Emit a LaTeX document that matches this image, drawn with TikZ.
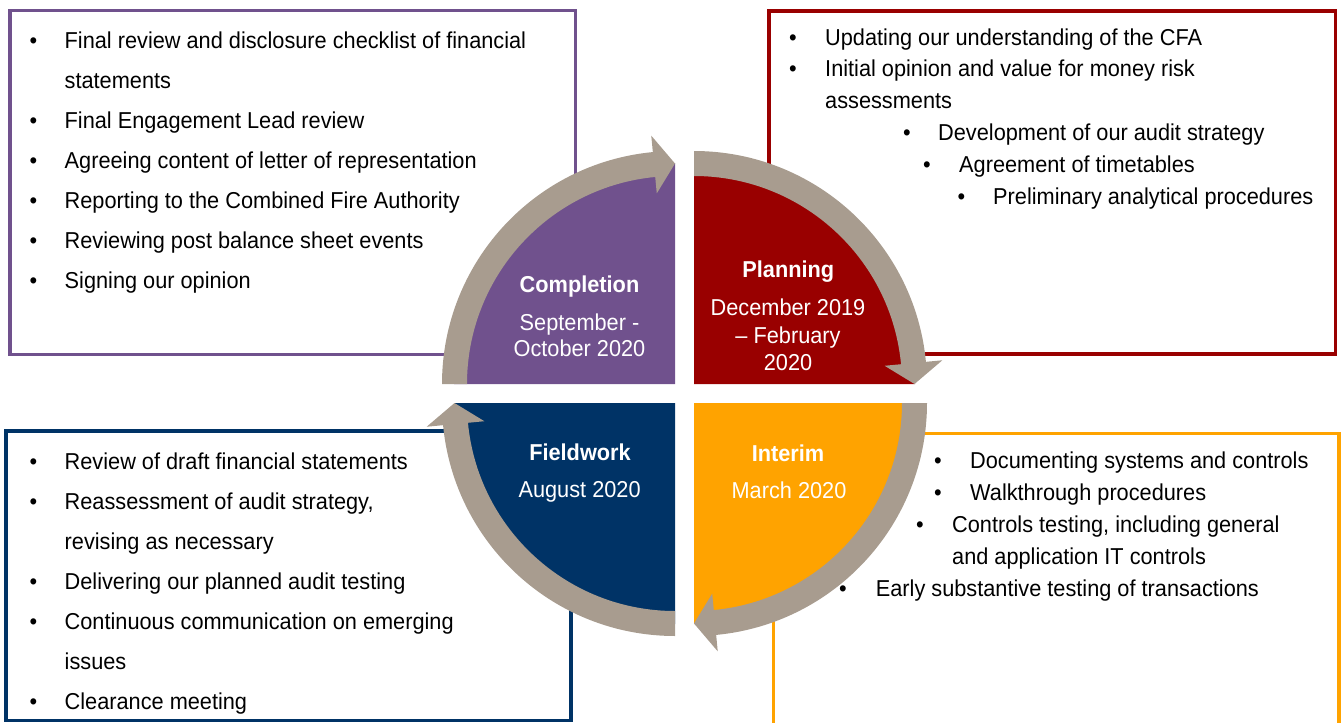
\documentclass[tikz,border=0pt]{standalone}
\usepackage{fontspec}
\setmainfont{Liberation Sans}[FakeStretch=0.945]
\definecolor{purp}{RGB}{112,81,141}
\definecolor{darkred}{RGB}{153,0,0}
\definecolor{orng}{RGB}{255,163,0}
\definecolor{navy}{RGB}{0,51,102}
\definecolor{ringgray}{RGB}{168,156,143}
\newcommand{\ringarrow}[2]{%
  \begin{scope}[shift={(#1)}]
    \fill[ringgray] (#2:208) -- (#2:233)
      arc[start angle=#2, end angle={#2+84.54}, radius=233]
      -- ({#2+84.54}:249.5) -- ({#2+90}:220.5) -- ({#2+84.54}:191.5)
      -- ({#2+84.54}:208)
      arc[start angle={#2+84.54}, end angle=#2, radius=208] -- cycle;
  \end{scope}}
\newcommand{\quadsector}[3]{%
  \begin{scope}[shift={(#1)}]
    \fill[#3] (0,0) -- (#2:221) arc[start angle=#2, end angle={#2+90}, radius=221] -- cycle;
  \end{scope}}
\begin{document}
\begin{tikzpicture}[x=1pt,y=-1pt,
  txt/.style={anchor=base west,inner sep=0pt,font=\fontsize{23}{28}\selectfont},
  bul/.style={anchor=base,inner sep=0pt,font=\fontsize{23}{28}\selectfont},
  ctr/.style={anchor=base,inner sep=0pt,text=white,font=\fontsize{23}{28}\selectfont},
  ctrb/.style={anchor=base,inner sep=0pt,text=white,font=\fontsize{23}{28}\selectfont\bfseries},
  box/.style={line width=3.6pt}]
\useasboundingbox (0,0) rectangle (1342,723);

% boxes
\draw[box,purp] (10,10.5) rectangle (575.5,354.5);
\draw[box,darkred] (769,11) rectangle (1335.5,354);
\draw[box,navy] (6,431) rectangle (571,720.5);
\draw[box,orng] (773.5,433.5) rectangle (1339,740);

% quadrant sectors
\quadsector{675,384}{180}{purp}
\quadsector{694,384}{270}{darkred}
\quadsector{694,403}{0}{orng}
\quadsector{675,403}{90}{navy}

% ring arrows
\ringarrow{675,384}{180}
\ringarrow{694,384}{270}
\ringarrow{694,403}{0}
\ringarrow{675,403}{90}

% centre labels
\node[ctrb] (cT) at (579.5,292) {Completion};
\node[ctr] (cD1) at (579.5,330) {September -};
\node[ctr] (cD2) at (579.5,356.7) {October 2020};
\node[ctrb] (pT) at (788.3,277.7) {Planning};
\node[ctr] (pD1) at (788,315) {December 2019};
\node[ctr] (pD2) at (788,343.3) {– February};
\node[ctr] (pD3) at (788,370) {2020};
\node[ctrb] (fT) at (580,460.7) {Fieldwork};
\node[ctr] (fD) at (579.6,497.7) {August 2020};
\node[ctrb] (iT) at (788,461) {Interim};
\node[ctr] (iD) at (789,498) {March 2020};

% purple box text
\node[bul] (pb1) at (33.5,48.5) {•};
\node[txt] (pl1) at (64.5,48.5) {Final review and disclosure checklist of financial};
\node[txt] (pl2) at (64.5,88.5) {statements};
\node[bul] (pb3) at (33.5,128.5) {•};
\node[txt] (pl3) at (64.5,128.5) {Final Engagement Lead review};
\node[bul] (pb4) at (33.5,168.5) {•};
\node[txt] (pl4) at (64.5,168.5) {Agreeing content of letter of representation};
\node[bul] (pb5) at (33.5,208.5) {•};
\node[txt] (pl5) at (64.5,208.5) {Reporting to the Combined Fire Authority};
\node[bul] (pb6) at (33.5,248.5) {•};
\node[txt] (pl6) at (64.5,248.5) {Reviewing post balance sheet events};
\node[bul] (pb7) at (33.5,288.5) {•};
\node[txt] (pl7) at (64.5,288.5) {Signing our opinion};

% red box text
\node[bul] (rb1) at (793,45) {•};
\node[txt] (rl1) at (825,45) {Updating our understanding of the CFA};
\node[bul] (rb2) at (793,76.7) {•};
\node[txt] (rl2) at (825,76.7) {Initial opinion and value for money risk};
\node[txt] (rl3) at (825,108.3) {assessments};
\node[bul] (rb4) at (907,140.5) {•};
\node[txt] (rl4) at (938,140.5) {Development of our audit strategy};
\node[bul] (rb5) at (927,172.5) {•};
\node[txt] (rl5) at (959,172.5) {Agreement of timetables};
\node[bul] (rb6) at (961.5,204) {•};
\node[txt] (rl6) at (993,204) {Preliminary analytical procedures};

% navy box text
\node[bul] (nb1) at (33.5,469.3) {•};
\node[txt] (nl1) at (64.5,469.3) {Review of draft financial statements};
\node[bul] (nb2) at (33.5,509.3) {•};
\node[txt] (nl2) at (64.5,509.3) {Reassessment of audit strategy,};
\node[txt] (nl3) at (64.5,549.3) {revising as necessary};
\node[bul] (nb4) at (33.5,589.3) {•};
\node[txt] (nl4) at (64.5,589.3) {Delivering our planned audit testing};
\node[bul] (nb5) at (33.5,629.3) {•};
\node[txt] (nl5) at (64.5,629.3) {Continuous communication on emerging};
\node[txt] (nl6) at (64.5,669.3) {issues};
\node[bul] (nb7) at (33.5,709.3) {•};
\node[txt] (nl7) at (64.5,709.3) {Clearance meeting};

% orange box text
\node[bul] (ob1) at (938,468.3) {•};
\node[txt] (ol1) at (970,468.3) {Documenting systems and controls};
\node[bul] (ob2) at (938,500) {•};
\node[txt] (ol2) at (970,500) {Walkthrough procedures};
\node[bul] (ob3) at (920,532.5) {•};
\node[txt] (ol3) at (952,532.5) {Controls testing, including general};
\node[txt] (ol4) at (952,564.3) {and application IT controls};
\node[bul] (ob5) at (843,596) {•};
\node[txt] (ol5) at (875.7,596) {Early substantive testing of transactions};
\end{tikzpicture}
\end{document}
